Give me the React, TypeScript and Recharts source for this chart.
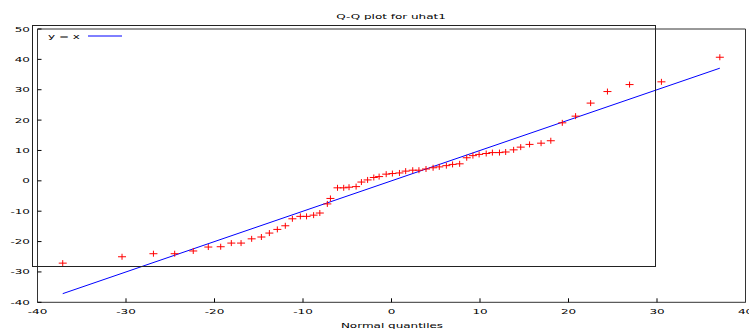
import React from 'react';
import { ScatterChart, Scatter, XAxis, YAxis } from 'recharts';

// normal quantiles (x) and sorted residuals (y)
const normalQuantiles = [
  -37.15, -30.45, -26.9, -24.5, -22.4, -20.7, -19.3, -18.1, -17.0, -15.8,
  -14.7, -13.8, -12.9, -12.0, -11.2, -10.3, -9.6, -8.8, -8.1, -7.25,
  -6.9, -6.1, -5.4, -4.8, -4.0, -3.4, -2.7, -2.0, -1.4, -0.6,
  0.1, 0.9, 1.6, 2.4, 3.1, 3.9, 4.7, 5.4, 6.2, 6.9,
  7.7, 8.5, 9.2, 9.9, 10.7, 11.4, 12.2, 12.9, 13.8, 14.6,
  15.6, 16.9, 18.0, 19.3, 20.8, 22.5, 24.4, 26.9, 30.5, 37.1,
];
const uhat1 = [
  -27.1, -25.0, -24.0, -24.0, -23.1, -21.8, -21.7, -20.5, -20.5, -19.1,
  -18.5, -17.2, -16.0, -14.8, -12.5, -11.7, -11.7, -11.3, -10.6, -7.6,
  -5.8, -2.3, -2.3, -2.1, -1.9, -0.4, 0.3, 1.1, 1.4, 2.2,
  2.4, 2.6, 3.2, 3.5, 3.5, 3.9, 4.3, 4.6, 5.0, 5.4,
  5.6, 7.6, 8.3, 8.7, 9.0, 9.3, 9.3, 9.5, 10.2, 11.1,
  12.0, 12.4, 13.2, 19.1, 21.3, 25.6, 29.4, 31.7, 32.6, 40.7,
];
const xTicks = [-40, -30, -20, -10, 0, 10, 20, 30, 40];
const yTicks = [-40, -30, -20, -10, 0, 10, 20, 30, 40, 50];

const points = normalQuantiles.map((x, i) => ({ x, y: uhat1[i] }));
const lo = Math.min(...normalQuantiles);
const hi = Math.max(...normalQuantiles);
const diagonal = [
  { x: lo, y: lo },
  { x: hi, y: hi },
];

const FONT = 'DejaVu Sans, sans-serif';
const SQUASH = 0.6;

const Squashed = ({ x, y, anchor, children }: any) => (
  <text
    transform={`translate(${x},${y}) scale(1,${SQUASH})`}
    textAnchor={anchor}
    dominantBaseline="central"
    fontFamily={FONT}
    fontSize={12}
    fill="#000"
  >
    {children}
  </text>
);

const LeftTick = (props: any) => (
  <Squashed x={props.x} y={props.y} anchor="end">{props.payload.value}</Squashed>
);
const BottomTick = (props: any) => (
  <Squashed x={props.x} y={props.y} anchor="middle">{props.payload.value}</Squashed>
);
const NoLabel = () => <g />;

const Cross = (props: any) => {
  const { cx, cy } = props;
  return (
    <g stroke="#ff0000" strokeWidth={1}>
      <line x1={cx - 4} x2={cx + 4} y1={cy} y2={cy} />
      <line x1={cx} x2={cx} y1={cy - 3} y2={cy + 3} />
    </g>
  );
};

export default function App() {
  const axisLine = { stroke: '#333', strokeWidth: 1 };
  const tickLine = { stroke: '#000' };
  return (
    <div style={{ position: 'absolute', left: 0, top: 0, width: 749, height: 331, background: '#fff' }}>
      <ScatterChart width={749} height={331} margin={{ top: 28, right: 2.5, bottom: 8.7, left: 0 }}>
        <XAxis
          type="number"
          dataKey="x"
          domain={[-40, 40]}
          ticks={xTicks}
          height={20}
          axisLine={axisLine}
          tickLine={tickLine}
          tickSize={-4}
          tickMargin={13.5}
          tick={BottomTick}
          interval={0}
        />
        <XAxis
          xAxisId="top"
          orientation="top"
          type="number"
          dataKey="x"
          domain={[-40, 40]}
          ticks={xTicks}
          height={1}
          axisLine={axisLine}
          tickLine={tickLine}
          tickSize={-4}
          tick={NoLabel}
          interval={0}
        />
        <YAxis
          type="number"
          dataKey="y"
          domain={[-40, 50]}
          ticks={yTicks}
          width={37.5}
          axisLine={axisLine}
          tickLine={tickLine}
          tickSize={-4}
          tickMargin={11.5}
          tick={LeftTick}
          interval={0}
        />
        <YAxis
          yAxisId="right"
          orientation="right"
          type="number"
          dataKey="y"
          domain={[-40, 50]}
          ticks={yTicks}
          width={1}
          axisLine={axisLine}
          tickLine={tickLine}
          tickSize={-4}
          tick={NoLabel}
          interval={0}
        />
        <Scatter
          data={diagonal}
          line={{ stroke: '#0000ff', strokeWidth: 1 }}
          shape={NoLabel}
          isAnimationActive={false}
        />
        <Scatter data={points} shape={Cross} isAnimationActive={false} />
      </ScatterChart>
      {/* gnuplot's oversized key box */}
      <div
        style={{
          position: 'absolute',
          left: 32,
          top: 25,
          width: 624,
          height: 242,
          boxSizing: 'border-box',
          border: '1px solid #222',
          pointerEvents: 'none',
        }}
      />
      <svg width={749} height={331} style={{ position: 'absolute', left: 0, top: 0, pointerEvents: 'none' }}>
        <Squashed x={391} y={16} anchor="middle">Q-Q plot for uhat1</Squashed>
        <Squashed x={48} y={36} anchor="start">y = x</Squashed>
        <line x1={88} x2={122} y1={36} y2={36} stroke="#0000ff" strokeWidth={1} />
        <Squashed x={392} y={325} anchor="middle">Normal quantiles</Squashed>
      </svg>
    </div>
  );
}
